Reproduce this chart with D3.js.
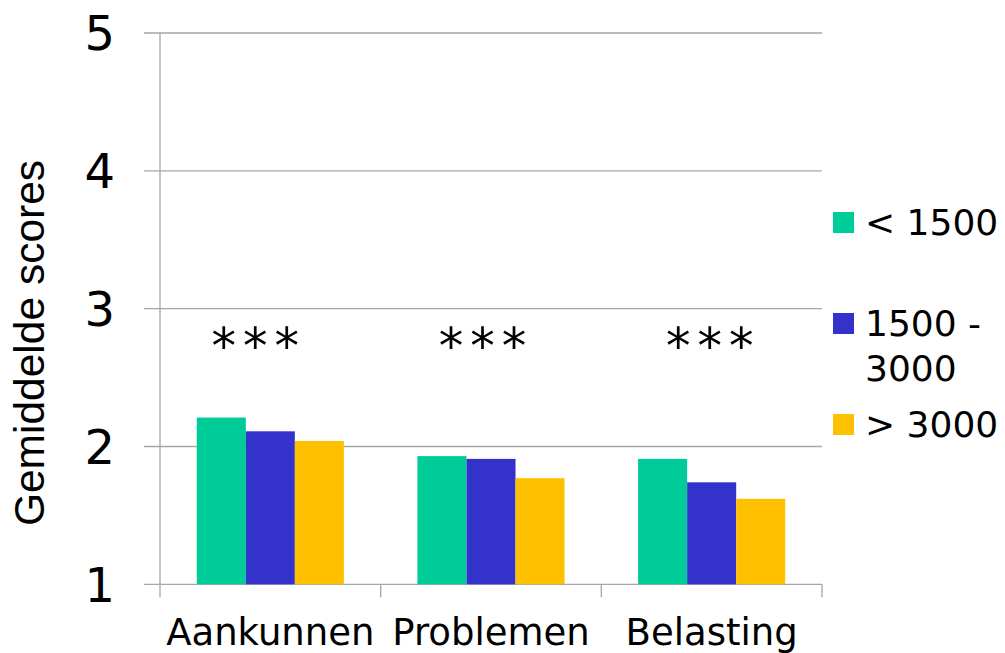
<!DOCTYPE html>
<html>
<head>
<meta charset="utf-8">
<script src="https://cdn.jsdelivr.net/npm/d3@7/dist/d3.min.js"></script>
<style>
  html, body { margin: 0; padding: 0; background: #fff; }
  svg { display: block; }
</style>
</head>
<body>
<svg id="chart" width="1005" height="653"></svg>
<script>
const categories = ["Aankunnen", "Problemen", "Belasting"];
const seriesNames = ["< 1500", "1500 - 3000", "> 3000"];
const seriesLegendLines = [["< 1500"], ["1500 -", "3000"], ["> 3000"]];
const seriesLow = [2.21, 1.93, 1.91];
const seriesMid = [2.11, 1.91, 1.74];
const seriesHigh = [2.04, 1.77, 1.62];
const seriesColors = ["#00CC99", "#3333CC", "#FFC000"];
const yTicks = [1, 2, 3, 4, 5];
const significance = ["***", "***", "***"];
const yTitle = "Gemiddelde scores";

const seriesValues = [seriesLow, seriesMid, seriesHigh];

const svg = d3.select("#chart");
const plotLeft = 160, plotRight = 822, plotTop = 33, plotBottom = 584.3;

const y = d3.scaleLinear().domain([1, 5]).range([plotBottom, plotTop]);
const x0 = d3.scaleBand().domain(categories).range([plotLeft, plotRight]).paddingInner(0).paddingOuter(0);
const x1 = d3.scaleBand().domain(seriesNames).range([0, x0.bandwidth()]).paddingInner(0).paddingOuter(0.75);

// gridlines (including baseline)
svg.append("g").selectAll("line").data(yTicks).join("line")
  .attr("x1", plotLeft - 16).attr("x2", plotRight)
  .attr("y1", d => y(d)).attr("y2", d => y(d))
  .attr("stroke", "#A6A6A6").attr("stroke-width", 1.3);

// y axis line
svg.append("line").attr("x1", plotLeft).attr("x2", plotLeft)
  .attr("y1", plotTop).attr("y2", plotBottom + 13)
  .attr("stroke", "#A6A6A6").attr("stroke-width", 1.3);

// category tick marks
const bounds = categories.map(c => x0(c) + x0.bandwidth());
svg.append("g").selectAll("line").data(bounds).join("line")
  .attr("x1", d => d).attr("x2", d => d)
  .attr("y1", plotBottom).attr("y2", plotBottom + 13)
  .attr("stroke", "#A6A6A6").attr("stroke-width", 1.3);

// bars
const groups = svg.append("g").selectAll("g").data(categories).join("g")
  .attr("transform", c => `translate(${x0(c)},0)`);
groups.selectAll("rect")
  .data((c, ci) => seriesNames.map((s, si) => ({ s, si, v: seriesValues[si][ci] })))
  .join("rect")
  .attr("x", d => x1(d.s))
  .attr("width", x1.bandwidth())
  .attr("y", d => y(d.v))
  .attr("height", d => y(1) - y(d.v))
  .attr("fill", d => seriesColors[d.si]);

// y tick labels
svg.append("g").selectAll("text").data(yTicks).join("text")
  .attr("x", 115).attr("y", d => y(d)).attr("dy", "0.36em")
  .attr("text-anchor", "end")
  .attr("font-family", "DejaVu Sans, Verdana, sans-serif")
  .attr("font-size", 48).attr("fill", "#000")
  .text(d => d);

// x labels
svg.append("g").selectAll("text").data(categories).join("text")
  .attr("x", c => x0(c) + x0.bandwidth() / 2).attr("y", 645)
  .attr("text-anchor", "middle")
  .attr("font-family", "DejaVu Sans, Verdana, sans-serif")
  .attr("font-size", 37).attr("fill", "#000")
  .text(c => c);

// significance stars
svg.append("g").selectAll("text").data(significance).join("text")
  .attr("x", (d, i) => x0(categories[i]) + x0.bandwidth() / 2 - 11.5 + i * 6.6)
  .attr("y", 363)
  .attr("text-anchor", "middle")
  .attr("letter-spacing", 7)
  .attr("font-family", "DejaVu Sans, Verdana, sans-serif")
  .attr("font-size", 49).attr("fill", "#000")
  .text(d => d);

// y title
svg.append("text")
  .attr("transform", "translate(44,343) rotate(-90)")
  .attr("text-anchor", "middle")
  .attr("font-family", "Liberation Sans, Arial, sans-serif")
  .attr("font-size", 42.5).attr("fill", "#000")
  .text(yTitle);

// legend
const legendSquareY = [212, 313, 414];
const legendBaseY = [235, 336, 437];
const lg = svg.append("g").selectAll("g").data(seriesNames).join("g");
lg.append("rect")
  .attr("x", 833).attr("width", 21).attr("height", 21)
  .attr("y", (d, i) => legendSquareY[i])
  .attr("fill", (d, i) => seriesColors[i]);
lg.append("text")
  .attr("x", 865).attr("y", (d, i) => legendBaseY[i])
  .attr("font-family", "DejaVu Sans, Verdana, sans-serif")
  .attr("font-size", 36).attr("fill", "#000")
  .selectAll("tspan").data((d, i) => seriesLegendLines[i]).join("tspan")
  .attr("x", 865).attr("dy", (d, j) => j === 0 ? 0 : 45)
  .text(d => d);
</script>
</body>
</html>
